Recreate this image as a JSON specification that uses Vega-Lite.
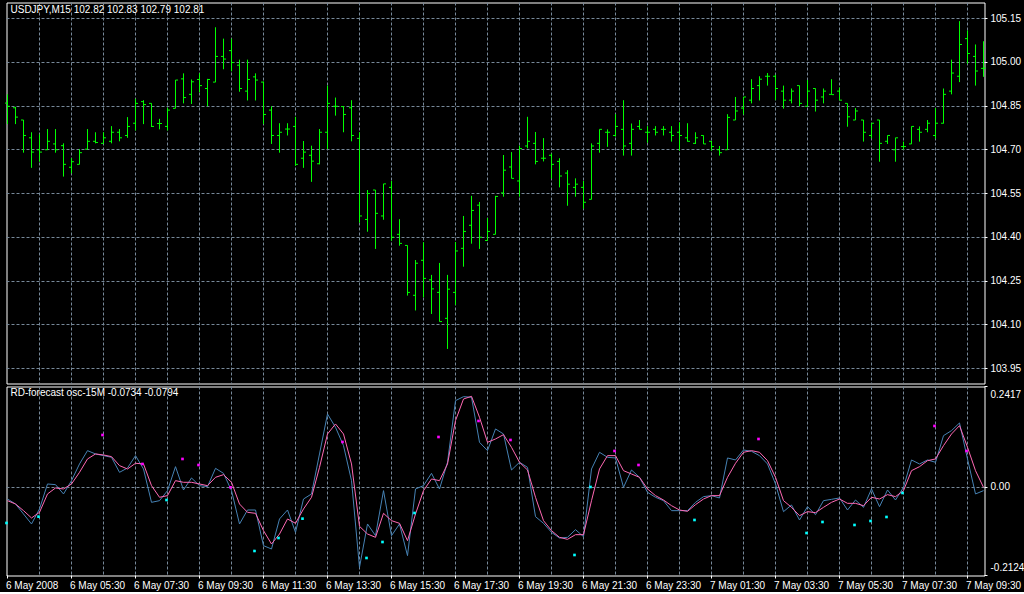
{
  "$schema": "https://vega.github.io/schema/vega-lite/v6.json",
  "background": "black",
  "padding": {"left": 3.5, "top": 1.5, "right": 0, "bottom": 0},
  "spacing": 1,
  "config": {
    "font": "Liberation Sans, sans-serif",
    "view": {"stroke": "white", "strokeWidth": 1, "fill": "black"},
    "axis": {
      "gridColor": "#778899", "gridDash": [3, 2], "gridWidth": 1, "gridOpacity": 1,
      "domain": false, "labelColor": "white", "tickColor": "white",
      "labelFont": "Liberation Sans, sans-serif",
      "labelFontSize": 10, "translate": 0, "title": null
    },
    "title": {"color": "white", "fontSize": 10, "fontWeight": "normal", "font": "Liberation Sans, sans-serif", "anchor": "start", "frame": "group", "baseline": "alphabetic", "offset": -12, "dx": 4}
  },
  "datasets": {
    "bars": [
      {"i":0,"open":104.86,"high":104.89,"low":104.788,"close":104.849},
      {"i":1,"open":104.844,"high":104.847,"low":104.788,"close":104.812},
      {"i":2,"open":104.802,"high":104.802,"low":104.69,"close":104.749},
      {"i":3,"open":104.741,"high":104.76,"low":104.638,"close":104.692},
      {"i":4,"open":104.7,"high":104.753,"low":104.659,"close":104.692},
      {"i":5,"open":104.7,"high":104.771,"low":104.699,"close":104.729},
      {"i":6,"open":104.72,"high":104.771,"low":104.69,"close":104.7},
      {"i":7,"open":104.714,"high":104.722,"low":104.608,"close":104.65},
      {"i":8,"open":104.64,"high":104.671,"low":104.619,"close":104.659},
      {"i":9,"open":104.65,"high":104.702,"low":104.65,"close":104.69},
      {"i":10,"open":104.702,"high":104.771,"low":104.702,"close":104.729},
      {"i":11,"open":104.729,"high":104.76,"low":104.722,"close":104.725},
      {"i":12,"open":104.722,"high":104.76,"low":104.722,"close":104.741},
      {"i":13,"open":104.729,"high":104.781,"low":104.722,"close":104.76},
      {"i":14,"open":104.76,"high":104.771,"low":104.729,"close":104.741},
      {"i":15,"open":104.749,"high":104.812,"low":104.741,"close":104.78},
      {"i":16,"open":104.791,"high":104.875,"low":104.766,"close":104.859},
      {"i":17,"open":104.865,"high":104.87,"low":104.788,"close":104.855},
      {"i":18,"open":104.859,"high":104.859,"low":104.778,"close":104.78},
      {"i":19,"open":104.79,"high":104.806,"low":104.77,"close":104.79},
      {"i":20,"open":104.78,"high":104.844,"low":104.766,"close":104.836},
      {"i":21,"open":104.842,"high":104.939,"low":104.842,"close":104.939},
      {"i":22,"open":104.943,"high":104.962,"low":104.859,"close":104.879},
      {"i":23,"open":104.89,"high":104.941,"low":104.857,"close":104.933},
      {"i":24,"open":104.941,"high":104.962,"low":104.897,"close":104.92},
      {"i":25,"open":104.91,"high":104.943,"low":104.849,"close":104.941},
      {"i":26,"open":104.932,"high":105.12,"low":104.932,"close":105.02},
      {"i":27,"open":105.02,"high":105.081,"low":104.976,"close":105.011},
      {"i":28,"open":105.04,"high":105.081,"low":104.969,"close":104.999},
      {"i":29,"open":104.99,"high":105.009,"low":104.899,"close":104.91},
      {"i":30,"open":104.901,"high":105.009,"low":104.869,"close":104.941},
      {"i":31,"open":104.95,"high":104.962,"low":104.869,"close":104.939},
      {"i":32,"open":104.932,"high":104.934,"low":104.788,"close":104.821},
      {"i":33,"open":104.836,"high":104.849,"low":104.72,"close":104.749},
      {"i":34,"open":104.749,"high":104.791,"low":104.69,"close":104.76},
      {"i":35,"open":104.771,"high":104.791,"low":104.749,"close":104.771},
      {"i":36,"open":104.78,"high":104.813,"low":104.645,"close":104.65},
      {"i":37,"open":104.671,"high":104.73,"low":104.638,"close":104.692},
      {"i":38,"open":104.681,"high":104.714,"low":104.59,"close":104.661},
      {"i":39,"open":104.652,"high":104.771,"low":104.65,"close":104.76},
      {"i":40,"open":104.76,"high":104.92,"low":104.702,"close":104.859},
      {"i":41,"open":104.849,"high":104.879,"low":104.817,"close":104.849},
      {"i":42,"open":104.848,"high":104.849,"low":104.76,"close":104.821},
      {"i":43,"open":104.844,"high":104.87,"low":104.729,"close":104.749},
      {"i":44,"open":104.739,"high":104.76,"low":104.45,"close":104.473},
      {"i":45,"open":104.461,"high":104.562,"low":104.419,"close":104.55},
      {"i":46,"open":104.562,"high":104.562,"low":104.36,"close":104.482},
      {"i":47,"open":104.473,"high":104.583,"low":104.46,"close":104.583},
      {"i":48,"open":104.571,"high":104.593,"low":104.388,"close":104.4},
      {"i":49,"open":104.41,"high":104.462,"low":104.371,"close":104.379},
      {"i":50,"open":104.372,"high":104.372,"low":104.2,"close":104.211},
      {"i":51,"open":104.201,"high":104.322,"low":104.149,"close":104.311},
      {"i":52,"open":104.321,"high":104.383,"low":104.194,"close":104.259},
      {"i":53,"open":104.254,"high":104.271,"low":104.137,"close":104.223},
      {"i":54,"open":104.211,"high":104.312,"low":104.111,"close":104.111},
      {"i":55,"open":104.122,"high":104.271,"low":104.017,"close":104.222},
      {"i":56,"open":104.211,"high":104.384,"low":104.168,"close":104.353},
      {"i":57,"open":104.362,"high":104.473,"low":104.299,"close":104.42},
      {"i":58,"open":104.441,"high":104.542,"low":104.378,"close":104.492},
      {"i":59,"open":104.51,"high":104.521,"low":104.36,"close":104.4},
      {"i":60,"open":104.389,"high":104.466,"low":104.388,"close":104.42},
      {"i":61,"open":104.41,"high":104.542,"low":104.41,"close":104.54},
      {"i":62,"open":104.552,"high":104.682,"low":104.539,"close":104.63},
      {"i":63,"open":104.641,"high":104.692,"low":104.602,"close":104.602},
      {"i":64,"open":104.593,"high":104.714,"low":104.539,"close":104.704},
      {"i":65,"open":104.713,"high":104.813,"low":104.705,"close":104.729},
      {"i":66,"open":104.722,"high":104.761,"low":104.65,"close":104.66},
      {"i":67,"open":104.671,"high":104.74,"low":104.66,"close":104.671},
      {"i":68,"open":104.681,"high":104.687,"low":104.601,"close":104.65},
      {"i":69,"open":104.66,"high":104.671,"low":104.571,"close":104.61},
      {"i":70,"open":104.62,"high":104.63,"low":104.508,"close":104.582},
      {"i":71,"open":104.571,"high":104.602,"low":104.539,"close":104.582},
      {"i":72,"open":104.571,"high":104.593,"low":104.498,"close":104.52},
      {"i":73,"open":104.53,"high":104.722,"low":104.53,"close":104.713},
      {"i":74,"open":104.722,"high":104.77,"low":104.69,"close":104.77},
      {"i":75,"open":104.76,"high":104.77,"low":104.71,"close":104.76},
      {"i":76,"open":104.749,"high":104.822,"low":104.745,"close":104.78},
      {"i":77,"open":104.77,"high":104.87,"low":104.68,"close":104.713},
      {"i":78,"open":104.722,"high":104.79,"low":104.68,"close":104.77},
      {"i":79,"open":104.78,"high":104.802,"low":104.77,"close":104.77},
      {"i":80,"open":104.76,"high":104.781,"low":104.724,"close":104.76},
      {"i":81,"open":104.77,"high":104.781,"low":104.749,"close":104.76},
      {"i":82,"open":104.77,"high":104.781,"low":104.749,"close":104.77},
      {"i":83,"open":104.76,"high":104.781,"low":104.728,"close":104.749},
      {"i":84,"open":104.76,"high":104.794,"low":104.697,"close":104.749},
      {"i":85,"open":104.741,"high":104.791,"low":104.728,"close":104.729},
      {"i":86,"open":104.722,"high":104.76,"low":104.72,"close":104.741},
      {"i":87,"open":104.749,"high":104.749,"low":104.72,"close":104.72},
      {"i":88,"open":104.729,"high":104.73,"low":104.697,"close":104.711},
      {"i":89,"open":104.7,"high":104.713,"low":104.68,"close":104.69},
      {"i":90,"open":104.7,"high":104.822,"low":104.7,"close":104.811},
      {"i":91,"open":104.802,"high":104.881,"low":104.802,"close":104.833},
      {"i":92,"open":104.843,"high":104.881,"low":104.821,"close":104.881},
      {"i":93,"open":104.87,"high":104.942,"low":104.859,"close":104.91},
      {"i":94,"open":104.92,"high":104.952,"low":104.869,"close":104.942},
      {"i":95,"open":104.952,"high":104.963,"low":104.92,"close":104.952},
      {"i":96,"open":104.952,"high":104.957,"low":104.87,"close":104.91},
      {"i":97,"open":104.901,"high":104.92,"low":104.841,"close":104.87},
      {"i":98,"open":104.87,"high":104.91,"low":104.859,"close":104.901},
      {"i":99,"open":104.92,"high":104.92,"low":104.849,"close":104.859},
      {"i":100,"open":104.849,"high":104.939,"low":104.849,"close":104.901},
      {"i":101,"open":104.91,"high":104.91,"low":104.831,"close":104.87},
      {"i":102,"open":104.881,"high":104.91,"low":104.859,"close":104.901},
      {"i":103,"open":104.89,"high":104.942,"low":104.889,"close":104.889},
      {"i":104,"open":104.901,"high":104.913,"low":104.87,"close":104.87},
      {"i":105,"open":104.859,"high":104.859,"low":104.779,"close":104.813},
      {"i":106,"open":104.802,"high":104.843,"low":104.802,"close":104.833},
      {"i":107,"open":104.802,"high":104.802,"low":104.728,"close":104.76},
      {"i":108,"open":104.749,"high":104.791,"low":104.739,"close":104.791},
      {"i":109,"open":104.802,"high":104.802,"low":104.659,"close":104.722},
      {"i":110,"open":104.729,"high":104.749,"low":104.72,"close":104.749},
      {"i":111,"open":104.7,"high":104.741,"low":104.659,"close":104.741},
      {"i":112,"open":104.711,"high":104.728,"low":104.7,"close":104.711},
      {"i":113,"open":104.72,"high":104.78,"low":104.72,"close":104.78},
      {"i":114,"open":104.77,"high":104.78,"low":104.728,"close":104.76},
      {"i":115,"open":104.77,"high":104.802,"low":104.76,"close":104.791},
      {"i":116,"open":104.749,"high":104.843,"low":104.738,"close":104.791},
      {"i":117,"open":104.791,"high":104.91,"low":104.79,"close":104.89},
      {"i":118,"open":104.901,"high":105.009,"low":104.89,"close":104.963},
      {"i":119,"open":104.952,"high":105.141,"low":104.932,"close":105.061},
      {"i":120,"open":105.081,"high":105.109,"low":104.995,"close":105.03},
      {"i":121,"open":105.02,"high":105.061,"low":104.92,"close":104.97},
      {"i":122,"open":104.979,"high":105.072,"low":104.95,"close":104.98}
    ],
    "osc": [
      {"i":0,"main":-0.0286,"signal":-0.0326},
      {"i":1,"main":-0.0406,"signal":-0.0406},
      {"i":2,"main":-0.0646,"signal":-0.0566},
      {"i":3,"main":-0.0886,"signal":-0.0742},
      {"i":4,"main":-0.0526,"signal":-0.0606},
      {"i":5,"main":0.0075,"signal":-0.0165},
      {"i":6,"main":0.0059,"signal":-0.0021},
      {"i":7,"main":-0.0165,"signal":-0.0045},
      {"i":8,"main":0.0155,"signal":0.0075},
      {"i":9,"main":0.0556,"signal":0.0355},
      {"i":10,"main":0.0876,"signal":0.0676},
      {"i":11,"main":0.0796,"signal":0.0796},
      {"i":12,"main":0.0756,"signal":0.0772},
      {"i":13,"main":0.0716,"signal":0.0732},
      {"i":14,"main":0.0355,"signal":0.0516},
      {"i":15,"main":0.0459,"signal":0.0435},
      {"i":16,"main":0.0756,"signal":0.0572},
      {"i":17,"main":0.0435,"signal":0.0556},
      {"i":18,"main":-0.0366,"signal":0.0035},
      {"i":19,"main":-0.0326,"signal":-0.0245},
      {"i":20,"main":-0.0085,"signal":-0.0205},
      {"i":21,"main":0.0491,"signal":0.0155},
      {"i":22,"main":-0.0069,"signal":0.0115},
      {"i":23,"main":0.0219,"signal":0.0115},
      {"i":24,"main":0.0035,"signal":0.0075},
      {"i":25,"main":0.0011,"signal":0.0035},
      {"i":26,"main":0.0451,"signal":0.0235},
      {"i":27,"main":0.0331,"signal":0.0299},
      {"i":28,"main":-0.0085,"signal":0.0115},
      {"i":29,"main":-0.0886,"signal":-0.0406},
      {"i":30,"main":-0.055,"signal":-0.0606},
      {"i":31,"main":-0.055,"signal":-0.063},
      {"i":32,"main":-0.1407,"signal":-0.1046},
      {"i":33,"main":-0.1487,"signal":-0.1367},
      {"i":34,"main":-0.0766,"signal":-0.1127},
      {"i":35,"main":-0.055,"signal":-0.0766},
      {"i":36,"main":-0.1087,"signal":-0.087},
      {"i":37,"main":-0.0286,"signal":-0.0526},
      {"i":38,"main":-0.0165,"signal":-0.0245},
      {"i":39,"main":0.0796,"signal":0.0475},
      {"i":40,"main":0.1757,"signal":0.1276},
      {"i":41,"main":0.1437,"signal":0.1517},
      {"i":42,"main":0.0996,"signal":0.1276},
      {"i":43,"main":0.0155,"signal":0.0556},
      {"i":44,"main":-0.1928,"signal":-0.0942},
      {"i":45,"main":-0.0886,"signal":-0.1127},
      {"i":46,"main":-0.1167,"signal":-0.1207},
      {"i":47,"main":-0.0085,"signal":-0.063},
      {"i":48,"main":-0.1167,"signal":-0.0806},
      {"i":49,"main":-0.0886,"signal":-0.087},
      {"i":50,"main":-0.1647,"signal":-0.1287},
      {"i":51,"main":-0.0045,"signal":-0.0646},
      {"i":52,"main":0.0035,"signal":-0.0085},
      {"i":53,"main":0.0331,"signal":0.0195},
      {"i":54,"main":-0.0045,"signal":0.0155},
      {"i":55,"main":0.0596,"signal":0.0556},
      {"i":56,"main":0.2077,"signal":0.1597},
      {"i":57,"main":0.2173,"signal":0.2117},
      {"i":58,"main":0.2158,"signal":0.2181},
      {"i":59,"main":0.1076,"signal":0.1677},
      {"i":60,"main":0.0876,"signal":0.1076},
      {"i":61,"main":0.1397,"signal":0.1156},
      {"i":62,"main":0.1276,"signal":0.126},
      {"i":63,"main":0.0411,"signal":0.0956},
      {"i":64,"main":0.0596,"signal":0.0596},
      {"i":65,"main":0.0475,"signal":0.0411},
      {"i":66,"main":-0.071,"signal":-0.0245},
      {"i":67,"main":-0.087,"signal":-0.0806},
      {"i":68,"main":-0.1087,"signal":-0.1046},
      {"i":69,"main":-0.1223,"signal":-0.1207},
      {"i":70,"main":-0.1207,"signal":-0.1255},
      {"i":71,"main":-0.1022,"signal":-0.1143},
      {"i":72,"main":-0.1191,"signal":-0.1143},
      {"i":73,"main":0.0435,"signal":-0.0326},
      {"i":74,"main":0.0836,"signal":0.0435},
      {"i":75,"main":0.0716,"signal":0.0756},
      {"i":76,"main":0.07,"signal":0.0756},
      {"i":77,"main":-0.0005,"signal":0.0395},
      {"i":78,"main":0.0411,"signal":0.0315},
      {"i":79,"main":0.0235,"signal":0.0235},
      {"i":80,"main":-0.0125,"signal":-0.0045},
      {"i":81,"main":-0.0245,"signal":-0.0205},
      {"i":82,"main":-0.0326,"signal":-0.031},
      {"i":83,"main":-0.0566,"signal":-0.0446},
      {"i":84,"main":-0.0566,"signal":-0.055},
      {"i":85,"main":-0.0566,"signal":-0.0582},
      {"i":86,"main":-0.0366,"signal":-0.0422},
      {"i":87,"main":-0.0229,"signal":-0.0286},
      {"i":88,"main":-0.0205,"signal":-0.0205},
      {"i":89,"main":-0.0261,"signal":-0.0205},
      {"i":90,"main":0.07,"signal":0.0235},
      {"i":91,"main":0.0652,"signal":0.0572},
      {"i":92,"main":0.0892,"signal":0.0836},
      {"i":93,"main":0.086,"signal":0.0876},
      {"i":94,"main":0.0756,"signal":0.0836},
      {"i":95,"main":0.0556,"signal":0.0636},
      {"i":96,"main":0.0075,"signal":0.0235},
      {"i":97,"main":-0.059,"signal":-0.0326},
      {"i":98,"main":-0.043,"signal":-0.0486},
      {"i":99,"main":-0.079,"signal":-0.0686},
      {"i":100,"main":-0.047,"signal":-0.059},
      {"i":101,"main":-0.0662,"signal":-0.0614},
      {"i":102,"main":-0.0326,"signal":-0.0486},
      {"i":103,"main":-0.0294,"signal":-0.0366},
      {"i":104,"main":-0.0261,"signal":-0.0286},
      {"i":105,"main":-0.055,"signal":-0.039},
      {"i":106,"main":-0.031,"signal":-0.039},
      {"i":107,"main":-0.0486,"signal":-0.0446},
      {"i":108,"main":-0.0045,"signal":-0.0245},
      {"i":109,"main":-0.047,"signal":-0.0286},
      {"i":110,"main":-0.0069,"signal":-0.0181},
      {"i":111,"main":-0.031,"signal":-0.0229},
      {"i":112,"main":-0.0005,"signal":-0.0085},
      {"i":113,"main":0.0652,"signal":0.0395},
      {"i":114,"main":0.0556,"signal":0.0491},
      {"i":115,"main":0.0652,"signal":0.0636},
      {"i":116,"main":0.0596,"signal":0.0676},
      {"i":117,"main":0.1236,"signal":0.0996},
      {"i":118,"main":0.1357,"signal":0.1276},
      {"i":119,"main":0.1541,"signal":0.1477},
      {"i":120,"main":0.0676,"signal":0.0956},
      {"i":121,"main":-0.0165,"signal":0.0395},
      {"i":122,"main":-0.0085,"signal":-0.0005}
    ],
    "dots": [
      {"i":12,"v":0.1252,"kind":"up"},
      {"i":17,"v":0.0556,"kind":"up"},
      {"i":22,"v":0.0676,"kind":"up"},
      {"i":24,"v":0.0531,"kind":"up"},
      {"i":28,"v":-0.0005,"kind":"up"},
      {"i":42,"v":0.1084,"kind":"up"},
      {"i":54,"v":0.1204,"kind":"up"},
      {"i":59,"v":0.1589,"kind":"up"},
      {"i":63,"v":0.1132,"kind":"up"},
      {"i":76,"v":0.0868,"kind":"up"},
      {"i":79,"v":0.0531,"kind":"up"},
      {"i":94,"v":0.1156,"kind":"up"},
      {"i":116,"v":0.1469,"kind":"up"},
      {"i":120,"v":0.0868,"kind":"up"},
      {"i":0,"v":-0.0862,"kind":"down"},
      {"i":4,"v":-0.071,"kind":"down"},
      {"i":20,"v":-0.031,"kind":"down"},
      {"i":31,"v":-0.1535,"kind":"down"},
      {"i":34,"v":-0.1223,"kind":"down"},
      {"i":37,"v":-0.0758,"kind":"down"},
      {"i":45,"v":-0.1703,"kind":"down"},
      {"i":47,"v":-0.1319,"kind":"down"},
      {"i":51,"v":-0.0622,"kind":"down"},
      {"i":71,"v":-0.1631,"kind":"down"},
      {"i":73,"v":0.0003,"kind":"down"},
      {"i":86,"v":-0.079,"kind":"down"},
      {"i":100,"v":-0.1103,"kind":"down"},
      {"i":102,"v":-0.0838,"kind":"down"},
      {"i":106,"v":-0.091,"kind":"down"},
      {"i":108,"v":-0.0814,"kind":"down"},
      {"i":110,"v":-0.0718,"kind":"down"},
      {"i":112,"v":-0.0141,"kind":"down"}
    ]
  },
  "vconcat": [
    {
      "width": 978,
      "height": 381,
      "title": {"text": "USDJPY,M15  102.82 102.83 102.79 102.81"},
      "data": {"name": "bars"},
      "encoding": {
        "x": {
          "field": "i", "type": "quantitative",
          "scale": {"domain": [-0.125, 122.125], "nice": false, "zero": false},
          "axis": {
            "values": [0,4,8,12,16,20,24,28,32,36,40,44,48,52,56,60,64,68,72,76,80,84,88,92,96,100,104,108,112,116,120],
            "labels": false, "ticks": false, "grid": true,
            "gridOpacity": {"condition": {"test": "datum.value == 0", "value": 0}, "value": 1}
          }
        }
      },
      "layer": [
        {
          "mark": {"type": "rule", "color": "#00FF00", "strokeWidth": 1},
          "encoding": {
            "y": {
              "field": "low", "type": "quantitative",
              "scale": {"domain": [103.8986, 105.2049], "nice": false, "zero": false},
              "axis": {
                "orient": "right",
                "values": [103.95,104.1,104.25,104.4,104.55,104.7,104.85,105,105.15],
                "format": ".2f", "grid": true, "tickSize": 3, "labelPadding": 3
              }
            },
            "y2": {"field": "high"}
          }
        },
        {
          "mark": {"type": "rule", "color": "#00FF00", "strokeWidth": 1, "xOffset": -2.5, "x2Offset": 0},
          "encoding": {
            "x2": {"field": "i"},
            "y": {"field": "open", "type": "quantitative"}
          }
        },
        {
          "mark": {"type": "rule", "color": "#00FF00", "strokeWidth": 1, "xOffset": 0, "x2Offset": 2.5},
          "encoding": {
            "x2": {"field": "i"},
            "y": {"field": "close", "type": "quantitative"}
          }
        }
      ]
    },
    {
      "width": 978,
      "height": 189,
      "title": {"text": "RD-forecast osc-15M -0.0734 -0.0794"},
      "encoding": {
        "x": {
          "field": "i", "type": "quantitative",
          "scale": {"domain": [-0.125, 122.125], "nice": false, "zero": false},
          "axis": {
            "values": [0,4,8,12,16,20,24,28,32,36,40,44,48,52,56,60,64,68,72,76,80,84,88,92,96,100,104,108,112,116,120],
            "grid": true,
            "gridOpacity": {"condition": {"test": "datum.value == 0", "value": 0}, "value": 1},
            "ticks": true, "tickSize": 3,
            "tickOpacity": {"condition": {"test": "datum.value % 8 == 0", "value": 1}, "value": 0},
            "labelAlign": "left", "labelBaseline": "top", "labelPadding": 2, "labelOffset": -1.5,
            "labelOverlap": false, "labelBound": false, "labelFlush": false,
            "labelExpr": "datum.value % 8 == 0 ? ['6 May 2008','6 May 05:30','6 May 07:30','6 May 09:30','6 May 11:30','6 May 13:30','6 May 15:30','6 May 17:30','6 May 19:30','6 May 21:30','6 May 23:30','7 May 01:30','7 May 03:30','7 May 05:30','7 May 07:30','7 May 09:30'][datum.value / 8] : ''"
          }
        }
      },
      "layer": [
        {
          "data": {"name": "osc"},
          "mark": {"type": "line", "color": "#4682B4", "strokeWidth": 1},
          "encoding": {
            "y": {
              "field": "main", "type": "quantitative",
              "scale": {"domain": [-0.2124, 0.2417], "nice": false, "zero": false},
              "axis": {
                "orient": "right",
                "values": [-0.2124, 0, 0.2417],
                "labelExpr": "datum.value > 0.1 ? '0.2417' : (datum.value < -0.1 ? '-0.2124' : '0.00')",
                "grid": true,
                "gridOpacity": {"condition": {"test": "datum.value == 0", "value": 1}, "value": 0},
                "tickSize": 3, "labelPadding": 3,
                "labelFlush": true, "labelFlushOffset": -3
              }
            }
          }
        },
        {
          "data": {"name": "osc"},
          "mark": {"type": "line", "color": "#FF69B4", "strokeWidth": 1},
          "encoding": {
            "y": {"field": "signal", "type": "quantitative"}
          }
        },
        {
          "data": {"name": "dots"},
          "mark": {"type": "square", "size": 7, "filled": true, "opacity": 1, "xOffset": -1},
          "encoding": {
            "y": {"field": "v", "type": "quantitative"},
            "color": {"field": "kind", "type": "nominal", "scale": {"domain": ["up", "down"], "range": ["#FF00FF", "#00FFFF"]}, "legend": null}
          }
        }
      ]
    }
  ]
}
